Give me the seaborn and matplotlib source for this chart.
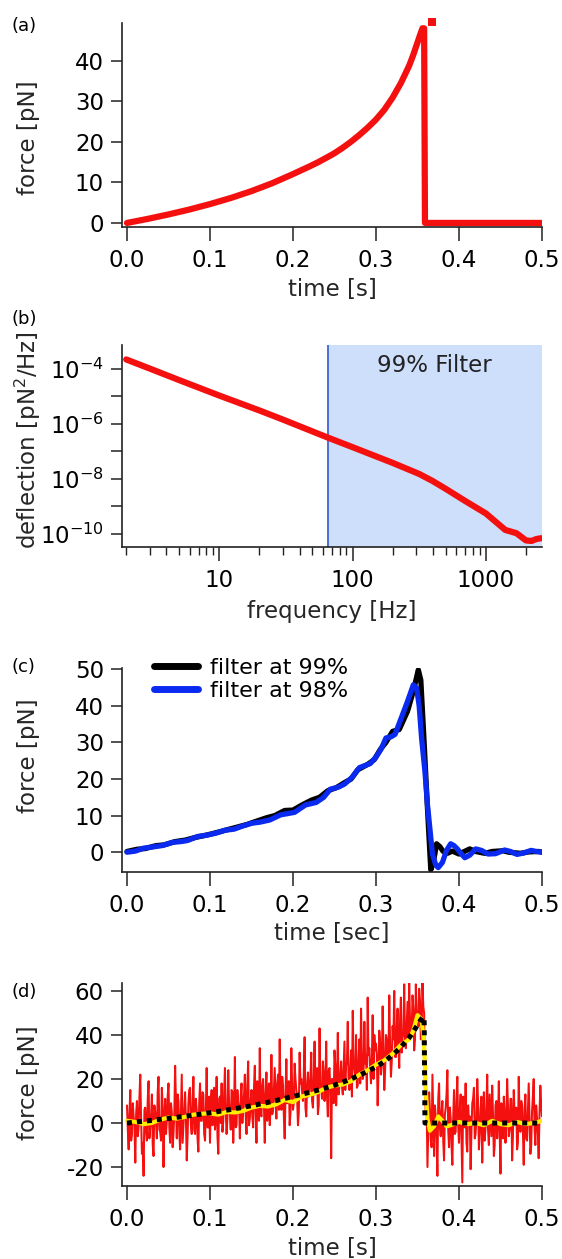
import numpy as np
import pandas as pd
import matplotlib
matplotlib.use('Agg')
import matplotlib.pyplot as plt
import seaborn as sns
from matplotlib.ticker import FixedLocator, NullFormatter

# ---------------- data ----------------
# (a) model force ramp, also used as the dotted model in (d)
model_t = [0.000, 0.025, 0.050, 0.075, 0.100, 0.125, 0.150, 0.175, 0.200, 0.210, 0.220, 0.230,
           0.240, 0.250, 0.260, 0.270, 0.280, 0.290, 0.300, 0.310, 0.320, 0.330, 0.340, 0.345,
           0.350, 0.353, 0.356, 0.358, 0.359, 0.500]
model_f = [0.0, 1.0, 2.1, 3.3, 4.65, 6.15, 7.85, 9.8, 12.05, 13.0, 13.95, 14.95,
           16.05, 17.2, 18.55, 20.05, 21.7, 23.5, 25.5, 27.9, 30.9, 34.5, 38.8, 41.5,
           44.5, 46.3, 48.0, 48.0, 0.0, 0.0]
rupture_t = [0.367]
rupture_f = [49.6]

# (b) power spectrum
freq = [2, 3, 5, 10, 20, 30, 50, 65, 100, 200, 316, 400, 500, 700, 1000, 1400, 1700, 2000, 2200,
        2400, 2600]
log_psd = [-3.67, -4.0, -4.42, -4.98, -5.52, -5.85, -6.28, -6.5, -6.85, -7.42, -7.82, -8.08, -8.36,
           -8.8, -9.25, -9.85, -9.97, -10.23, -10.25, -10.18, -10.15]
filter_cutoff = 65
filter_label = '99% Filter'

# (c) filtered traces
t98 = [0.000, 0.010, 0.020, 0.030, 0.042, 0.055, 0.065, 0.073, 0.085, 0.095, 0.107, 0.118, 0.129,
       0.140, 0.150, 0.160, 0.172, 0.185, 0.195, 0.202, 0.215, 0.228, 0.237, 0.245, 0.255, 0.262,
       0.271, 0.280, 0.293, 0.300, 0.306, 0.312, 0.318, 0.323, 0.332, 0.338, 0.345, 0.349, 0.352,
       0.355, 0.359, 0.362, 0.368, 0.372, 0.375, 0.380, 0.385, 0.390, 0.394, 0.398, 0.403, 0.407,
       0.413, 0.420, 0.427, 0.435, 0.444, 0.455, 0.462, 0.470, 0.478, 0.487, 0.493, 0.500]
f98 = [0.0, 0.3, 1.1, 1.4, 1.8, 2.7, 2.9, 3.2, 4.3, 4.6, 5.2, 6.0, 6.3,
       7.2, 7.9, 8.2, 8.8, 10.2, 10.6, 10.9, 12.9, 13.6, 15.0, 17.2, 17.8, 18.6,
       20.4, 23.1, 24.2, 26.0, 28.1, 31.2, 31.5, 32.2, 37.6, 41.2, 45.7, 44.8, 40.0,
       31.0, 22.0, 13.0, -0.5, -3.5, -4.2, -2.8, 0.5, 2.3, 1.8, 0.9, -0.5, -1.5,
       -0.8, 0.9, 0.5, -0.5, -0.4, 0.6, 0.2, -0.6, -0.2, 0.5, 0.2, 0.0]
t99 = [0.000, 0.012, 0.022, 0.035, 0.045, 0.058, 0.070, 0.080, 0.090, 0.100, 0.112, 0.125, 0.135,
       0.145, 0.155, 0.168, 0.178, 0.190, 0.200, 0.210, 0.222, 0.232, 0.242, 0.252, 0.262, 0.270,
       0.278, 0.290, 0.298, 0.305, 0.312, 0.320, 0.328, 0.333, 0.338, 0.345, 0.351, 0.354, 0.358,
       0.362, 0.366, 0.369, 0.373, 0.377, 0.381, 0.386, 0.392, 0.400, 0.413, 0.420, 0.431, 0.440,
       0.453, 0.460, 0.474, 0.485, 0.496, 0.500]
f99 = [0.2, 0.8, 1.0, 1.8, 2.0, 2.9, 3.3, 3.9, 4.4, 4.9, 5.6, 6.4, 7.0,
       7.6, 8.4, 9.4, 10.0, 11.4, 11.5, 12.8, 14.2, 15.0, 16.8, 17.6, 19.0, 20.0,
       22.5, 24.0, 25.3, 28.0, 30.0, 33.0, 33.5, 36.0, 38.5, 44.0, 49.8, 47.0, 30.0,
       12.0, -4.8, -3.0, 2.3, 1.5, 0.2, -0.3, 0.3, -0.5, 0.9, 0.2, -0.3, 0.2,
       0.4, 0.0, -0.3, 0.1, 0.2, 0.0]

# (d) raw trace, 1 ms samples: even-ms and odd-ms readings
raw_even = [8, -12, 15, -5, 3, -18, 10, -2, 22, -14,
            -24, 7, -8, 19, -2, 13, -15, 5, -7, 21,
            -4, 16, -20, 11, 1, 18, -9, 5, -5, 26,
            -7, 10, -12, 22, -1, 14, -17, 9, 16, -5,
            21, -5, 6, -13, 18, 1, 13, -8, 25, -2,
            -9, 15, 9, -3, 21, -14, 12, 18, 1, 25,
            -5, 24, 4, 15, -9, 30, -1, 9, -7, 18,
            7, 22, -5, 28, 2, 15, -2, 26, -9, 11,
            34, 3, 20, -9, 23, 11, -1, 31, 6, 25,
            2, 22, 38, 6, 17, -7, 29, 11, -1, 34,
            6, 27, 15, -1, 32, 20, 10, 39, 3, 23,
            14, 32, 7, 37, 19, 4, 43, 16, 28, 10,
            37, 3, 25, -16, 20, 33, 8, 41, 17, 28,
            13, 37, 26, 46, 15, 33, 51, 24, 40, 17,
            38, 52, 20, 46, 31, 57, 34, 18, 49, 40,
            36, 8, 42, 22, 53, 15, 40, 29, 58, 21,
            44, 60, 30, 52, 25, 57, 39, 63, 34, 55,
            64, 40, 58, 33, 63, 47, 61, 38, 64, 50,
            5, -20, 14, -8, 22, -15, 3, -24, 18, -6,
            10, -17, 7, 24, -11, 2, -19, 15, -4, 21,
            -9, 13, -27, 5, 18, -13, 1, -21, 9, 16,
            -5, 20, -12, 6, -18, 14, -2, 22, -10, 4,
            17, -15, 8, -7, 19, -23, 3, 12, -9, 20,
            -6, 11, -17, 15, 0, -12, 21, -4, 8, -19,
            13, -8, 18, -14, 5, 20, -10, 2, -16, 17,
            3]
raw_odd = [-3, 5, -8, 9, -1, 4, -6, 12, 2, -9,
           6, -4, 11, -7, 3, -10, 8, 0, 14, -3,
           -8, 7, 1, -5, 12, -2, 9, -11, 4, 10,
           13, -4, 6, -9, 8, 2, -6, 15, -1, 7,
           -3, 11, -7, 9, 1, 14, -5, 6, -2, 12,
           10, -1, 16, 3, -6, 11, 0, -4, 13, 5,
           2, 9, -3, 14, 6, -2, 15, 8, 12, 0,
           13, 4, 17, -1, 10, 3, 16, 6, 19, 1,
           5, 17, 8, 13, 1, 18, 7, 4, 15, 10,
           18, 6, 14, 21, 3, 13, 9, 19, 5, 16,
           9, 20, 11, 5, 18, 14, 22, 7, 17, 12,
           21, 10, 19, 13, 25, 8, 17, 11, 23, 16,
           12, 24, 15, 20, 9, 26, 18, 13, 22, 17,
           25, 15, 28, 19, 23, 12, 27, 21, 16, 29,
           18, 30, 22, 27, 15, 31, 24, 29, 20, 33,
           31, 23, 36, 27, 33, 24, 38, 30, 35, 28,
           38, 30, 43, 35, 47, 32, 40, 37, 45, 39,
           47, 42, 52, 38, 50, 44, 56, 41, 53, 12,
           9, -4, 6, -11, 3, 8, -7, 11, -2, 5,
           -8, 4, 13, -3, 7, -10, 2, -5, 10, -1,
           6, -6, 12, -2, -9, 8, 3, -4, 11, -7,
           2, 9, -5, 12, 0, -8, 7, -3, 13, -6,
           4, -10, 10, 1, -4, 9, -7, 5, -1, 8,
           -3, 11, -6, 3, 7, -9, 2, 10, -4, 6,
           -7, 5, 1, -10, 12, -2, 8, -5, 4, 9]
raw_f = [v for pair in zip(raw_even, raw_odd) for v in pair] + [raw_even[-1]]
raw_t = [round(i * 0.001, 3) for i in range(len(raw_f))]

smooth_t = [0.000, 0.010, 0.020, 0.030, 0.040, 0.050, 0.060, 0.070, 0.080, 0.090, 0.100, 0.110,
            0.120, 0.130, 0.140, 0.150, 0.160, 0.170, 0.180, 0.190, 0.200, 0.210, 0.220, 0.230,
            0.240, 0.250, 0.260, 0.270, 0.280, 0.290, 0.300, 0.310, 0.320, 0.330, 0.340, 0.345,
            0.350, 0.355, 0.358, 0.360, 0.362, 0.365, 0.370, 0.375, 0.380, 0.385, 0.390, 0.400,
            0.410, 0.420, 0.430, 0.440, 0.450, 0.460, 0.470, 0.480, 0.490, 0.500]
smooth_f = [1.0, 0.5, -0.5, 0.0, 1.5, 2.5, 2.0, 2.8, 3.8, 4.2, 4.4, 3.8,
            5.0, 4.8, 5.5, 7.0, 7.8, 7.5, 8.5, 10.5, 9.5, 12.0, 12.8, 14.0,
            16.0, 17.0, 17.5, 19.0, 22.0, 24.0, 26.5, 28.5, 31.5, 35.5, 38.0, 42.0,
            49.0, 47.0, 35.0, 15.0, 2.0, -3.5, -1.5, 3.0, 1.0, -1.5, -1.0, 0.5,
            -0.5, 0.0, -1.0, 1.0, -0.5, -1.0, 0.5, -0.5, 0.0, 1.0]

time_ticks = [0.0, 0.1, 0.2, 0.3, 0.4, 0.5]

# ---------------- style ----------------
sns.set_theme(style='ticks')
plt.rcParams['font.family'] = ['DejaVu Sans']
plt.rcParams.update({'axes.unicode_minus': False, 'axes.linewidth': 1.2,
                     'axes.edgecolor': '#222222', 'text.color': 'black',
                     'xtick.color': '#222222', 'ytick.color': '#222222',
                     'xtick.labelcolor': 'black', 'ytick.labelcolor': 'black'})

RED = '#f51010'
FS = 16.5

fig = plt.figure(figsize=(5.62, 12.59), dpi=100)
left, width = 0.2171, 0.7473
ax_a = fig.add_axes([left, 0.8197, width, 0.1620])
ax_b = fig.add_axes([left, 0.5655, width, 0.1604])
ax_c = fig.add_axes([left, 0.3074, width, 0.1620])
ax_d = fig.add_axes([left, 0.0580, width, 0.1612])


def style_axes(ax, xlabel, ylabel, xlab_y, ylab_y):
    sns.despine(ax=ax)
    ax.tick_params(axis='x', which='major', direction='out', length=10, width=1.1, pad=6, labelsize=FS)
    ax.tick_params(axis='y', which='major', direction='out', length=8, width=1.1, pad=5, labelsize=FS)
    ax.set_xlabel(xlabel, fontsize=FS, va='center')
    ax.set_ylabel(ylabel, fontsize=FS, va='center')
    ax.xaxis.set_label_coords(0.5, xlab_y)
    ax.yaxis.set_label_coords(-0.223, ylab_y)


# (a)
sns.lineplot(x=model_t, y=model_f, ax=ax_a, color=RED, lw=4.5, sort=False, estimator=None)
sns.scatterplot(x=rupture_t, y=rupture_f, ax=ax_a, color=RED, marker='s', s=30, linewidth=0,
                clip_on=False, zorder=5)
ax_a.set_xlim(-0.006, 0.5)
ax_a.set_ylim(-1.0, 49.3)
ax_a.set_xticks(time_ticks)
ax_a.set_yticks([0, 10, 20, 30, 40])
style_axes(ax_a, 'time [s]', 'force [pN]', -0.305, 0.44)

# (b)
psd = pd.DataFrame({'frequency': freq, 'deflection': [10.0 ** v for v in log_psd]})
ax_b.set_xscale('log')
ax_b.set_yscale('log')
ax_b.axvspan(filter_cutoff, 2640, color='#cddffb', lw=0, zorder=0)
ax_b.axvline(filter_cutoff, color='#4a6fd6', lw=1.4, zorder=1)
sns.lineplot(data=psd, x='frequency', y='deflection', ax=ax_b, color=RED, lw=4.5,
             sort=False, estimator=None, zorder=3)
ax_b.set_xlim(1.86, 2640)
ax_b.set_ylim(10 ** -10.47, 10 ** -3.15)
ax_b.set_xticks([10, 100, 1000], ['10', '100', '1000'])
minor_x = [m * d for d in [1, 10, 100, 1000] for m in range(2, 10) if m * d < 2640]
ax_b.xaxis.set_minor_locator(FixedLocator(minor_x))
ax_b.xaxis.set_minor_formatter(NullFormatter())
ax_b.set_yticks([1e-4, 1e-6, 1e-8, 1e-10],
                [r'10$^{-4}$', r'10$^{-6}$', r'10$^{-8}$', r'10$^{-10}$'])
ax_b.yaxis.set_minor_locator(FixedLocator([1e-5, 1e-7, 1e-9]))
ax_b.yaxis.set_minor_formatter(NullFormatter())
style_axes(ax_b, 'frequency [Hz]', r'deflection [pN$^2$/Hz]', -0.318, 0.53)
ax_b.tick_params(axis='x', which='minor', direction='out', length=5.5, width=1.0)
ax_b.tick_params(axis='y', which='minor', direction='out', length=8, width=1.1)
ax_b.text(0.744, 0.9, filter_label, transform=ax_b.transAxes, ha='center', va='center',
          fontsize=FS, color='#222222')

# (c)
sns.lineplot(x=t99, y=f99, ax=ax_c, color='black', lw=3.8, sort=False, estimator=None,
             label='filter at 99%')
sns.lineplot(x=t98, y=f98, ax=ax_c, color='#0a2af0', lw=3.8, sort=False, estimator=None,
             label='filter at 98%')
ax_c.set_xlim(-0.006, 0.5)
ax_c.set_ylim(-5.4, 50.3)
ax_c.set_xticks(time_ticks)
ax_c.set_yticks([0, 10, 20, 30, 40, 50])
style_axes(ax_c, 'time [sec]', 'force [pN]', -0.3, 0.569)
leg = ax_c.legend(loc='upper left', bbox_to_anchor=(0.075, 1.05), frameon=False, fontsize=16,
                  handlelength=2.0, handletextpad=0.55, labelspacing=0.15, borderpad=0,
                  borderaxespad=0)
for h in leg.get_lines():
    h.set_linewidth(5)

# (d)
sns.lineplot(x=raw_t, y=raw_f, ax=ax_d, color=RED, lw=1.45, sort=False, estimator=None)
sns.lineplot(x=smooth_t, y=smooth_f, ax=ax_d, color='#ffee00', lw=3.0, sort=False, estimator=None)
sns.lineplot(x=model_t, y=model_f, ax=ax_d, color='black', lw=3.6, sort=False, estimator=None,
             linestyle=(0, (1, 1)), dash_capstyle='butt')
ax_d.set_xlim(-0.006, 0.5)
ax_d.set_ylim(-28.6, 63.6)
ax_d.set_xticks(time_ticks)
ax_d.set_yticks([-20, 0, 20, 40, 60])
style_axes(ax_d, 'time [s]', 'force [pN]', -0.31, 0.507)

for lab, y in zip(['(a)', '(b)', '(c)', '(d)'], [0.9793, 0.7466, 0.4702, 0.2121]):
    fig.text(0.021, y, lab, ha='left', va='center', fontsize=13)

fig.savefig('out.png', dpi=100)
